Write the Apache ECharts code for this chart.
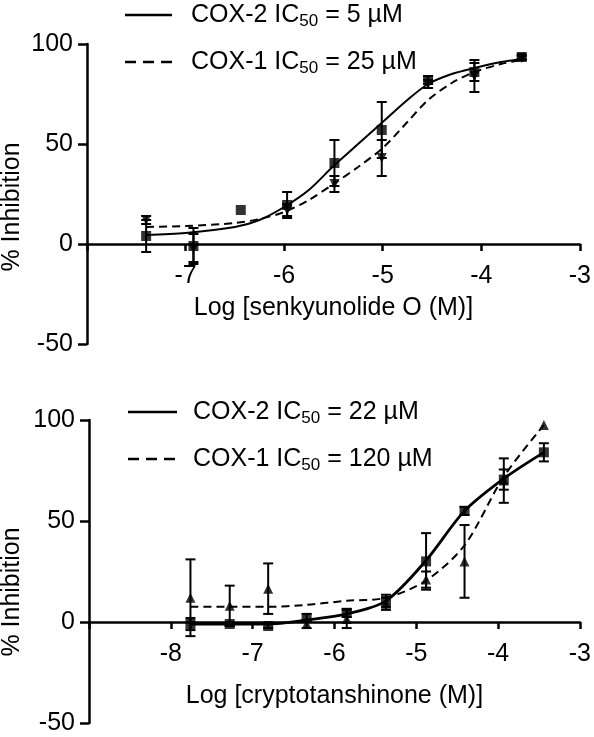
<!DOCTYPE html>
<html>
<head>
<meta charset="utf-8">
<script src="https://cdn.jsdelivr.net/npm/echarts@6/dist/echarts.min.js"></script>
<style>
html,body{margin:0;padding:0;background:#fff;}
#chart{width:594px;height:737px;}
</style>
</head>
<body>
<div id="chart"></div>
<script>
// ---------- Top panel: senkyunolide O ----------
var topX = [-7.40, -6.92, -6.44, -5.97, -5.49, -5.01, -4.54, -4.07, -3.59];
var topCox2 = [4, -1, 17, 19.5, 40.5, 57, 82, 86, 93.5];
var topCox2Err = [8, 9, 0, 6.5, 11.5, 14, 2, 4.5, 1];
var topCox1 = [12, -2, null, 17, 30, 43, 80, 84, 93];
var topCox1Err = [2, 7, 0, 3, 4, 9, 2, 8, 1];
var topCurveX = [-7.4, -7.0, -6.5, -6.25, -6.0, -5.75, -5.5, -5.25, -5.0, -4.75, -4.54, -4.3, -4.07, -3.8, -3.59];
var topCox2Curve = [4.5, 5.5, 8.5, 12, 18.5, 27, 39, 50, 61, 72, 80, 85, 88, 91, 92.5];
var topCox1Curve = [8.5, 9, 10.5, 12.5, 16, 22, 30, 38.5, 48, 61, 72, 80.5, 86, 90, 92];
var topXTicks = [-8, -7, -6, -5, -4, -3];

// ---------- Bottom panel: cryptotanshinone ----------
var botX = [-7.76, -7.28, -6.81, -6.34, -5.85, -5.37, -4.88, -4.41, -3.93, -3.44];
var botCox2 = [-1, -1, -2, 2, 4.5, 10.5, 30, 55, 70.5, 84];
var botCox2Err = [3, 1, 1, 2, 2, 3, 14, 2, 5, 4.5];
var botCox1 = [12, 8, 16.5, -1, 1.5, 9, 21, 30, 70, 97.5];
var botCox1Err = [19, 10, 12.5, 2, 4.5, 3, 4, 18, 11, 0];
var botCox2Curve = [-1, -1, -1, 1, 4, 10.5, 30.5, 55, 71, 84];
var botCox1Curve = [7.5, 7.5, 7.5, 8.5, 10.5, 12, 20.5, 38, 72, 97.5];
var botXTicks = [-9, -8, -7, -6, -5, -4, -3];

var yTicks = [-50, 0, 50, 100];

var legendTop = ['COX-2 IC{s|50}{a| = 5 µM}', 'COX-1 IC{s|50}{a| = 25 µM}'];
var legendBot = ['COX-2 IC{s|50}{a| = 22 µM}', 'COX-1 IC{s|50}{a| = 120 µM}'];
var xNames = ['Log [senkyunolide O (M)]', 'Log [cryptotanshinone (M)]'];
var yName = '% Inhibition';

var FONT = 'Liberation Sans, Arial, sans-serif';

function zip(xs, ys) {
  var out = [];
  for (var i = 0; i < xs.length; i++) if (ys[i] !== null) out.push([xs[i], ys[i]]);
  return out;
}
function zipErr(xs, ys, es) {
  var out = [];
  for (var i = 0; i < xs.length; i++) if (ys[i] !== null && es[i] > 0) out.push([xs[i], ys[i], es[i]]);
  return out;
}

function errSeries(data, idx) {
  return {
    type: 'custom', xAxisIndex: idx, yAxisIndex: idx, z: 3,
    data: data,
    renderItem: function (params, api) {
      var x = api.value(0), y = api.value(1), e = api.value(2);
      var p1 = api.coord([x, y + e]);
      var p2 = api.coord([x, y - e]);
      var w = 5;
      var st = {stroke: '#000', lineWidth: 2};
      return {
        type: 'group',
        children: [
          {type: 'line', shape: {x1: p1[0], y1: p1[1], x2: p2[0], y2: p2[1]}, style: st},
          {type: 'line', shape: {x1: p1[0] - w, y1: p1[1], x2: p1[0] + w, y2: p1[1]}, style: st},
          {type: 'line', shape: {x1: p2[0] - w, y1: p2[1], x2: p2[0] + w, y2: p2[1]}, style: st}
        ]
      };
    }
  };
}

function xAxisCfg(idx, ticks, name, offset, nameGap) {
  return {
    type: 'value', gridIndex: idx, position: 'bottom', offset: offset,
    min: ticks[0], max: ticks[ticks.length - 1], interval: 1,
    name: name, nameLocation: 'middle', nameGap: nameGap,
    nameTextStyle: {fontSize: 25, color: '#000', fontFamily: FONT},
    axisLine: {show: true, onZero: false, lineStyle: {color: '#000', width: 2.5}},
    axisTick: {show: true, inside: false, length: 7, lineStyle: {color: '#000', width: 2.5}},
    axisLabel: {fontSize: 25, color: '#000', fontFamily: FONT, margin: 20,
      formatter: function (v) { return v === ticks[0] ? '' : String(v); }},
    splitLine: {show: false}
  };
}
function yAxisCfg(idx) {
  return {
    type: 'value', gridIndex: idx,
    min: yTicks[0], max: yTicks[yTicks.length - 1], interval: 50,
    axisLine: {show: true, onZero: false, lineStyle: {color: '#000', width: 2.5}},
    axisTick: {show: true, inside: false, length: 9, lineStyle: {color: '#000', width: 2.5}},
    axisLabel: {fontSize: 25, color: '#000', fontFamily: FONT, margin: 14},
    splitLine: {show: false}
  };
}

function lineSeries(data, idx, dashed, width, smooth) {
  return {
    type: 'line', xAxisIndex: idx, yAxisIndex: idx, data: data,
    smooth: smooth, showSymbol: false, symbol: 'none', z: 2,
    lineStyle: {color: '#000', width: width, type: dashed ? [8, 5] : 'solid'}
  };
}
function scatterSeries(data, idx, symbol, size, rot) {
  return {
    type: 'scatter', xAxisIndex: idx, yAxisIndex: idx, data: data,
    symbol: symbol, symbolSize: size, symbolRotate: rot, z: 4,
    itemStyle: {color: '#000'}
  };
}

function legendItems(x0, x1, xt, ys, texts) {
  var els = [];
  for (var i = 0; i < texts.length; i++) {
    els.push({
      type: 'line', shape: {x1: x0, y1: ys[i], x2: x1, y2: ys[i]},
      style: {stroke: '#000', lineWidth: 2.5, lineDash: i === 1 ? [11, 7] : null}
    });
    els.push({
      type: 'text', x: xt, y: ys[i],
      style: {
        text: '{a|' + texts[i].replace('IC{s|', 'IC}{s|'),
        verticalAlign: 'middle', align: 'left',
        rich: {
          a: {fontSize: 25, fontFamily: FONT, fill: '#000', lineHeight: 30, verticalAlign: 'middle'},
          s: {fontSize: 17, fontFamily: FONT, fill: '#000', lineHeight: 17, verticalAlign: 'bottom'}
        }
      }
    });
  }
  return els;
}

var chart = echarts.init(document.getElementById('chart'), null, {renderer: 'canvas'});
var graphics = []
  .concat(legendItems(125, 172, 191, [15, 62], legendTop))
  .concat(legendItems(128, 177, 193, [412, 459], legendBot))
  .concat([
    {type: 'text', x: 12, y: 207, rotation: Math.PI / 2,
      style: {text: yName, fontSize: 25, fontFamily: FONT, fill: '#000', align: 'center', verticalAlign: 'middle'}},
    {type: 'text', x: 12, y: 592, rotation: Math.PI / 2,
      style: {text: yName, fontSize: 25, fontFamily: FONT, fill: '#000', align: 'center', verticalAlign: 'middle'}}
  ]);

chart.setOption({
  animation: false,
  backgroundColor: '#fff',
  grid: [
    {left: 87, top: 44, width: 497, height: 300, containLabel: false},
    {left: 89, top: 420, width: 496, height: 303, containLabel: false}
  ],
  xAxis: [xAxisCfg(0, topXTicks, xNames[0], -100, 52), xAxisCfg(1, botXTicks, xNames[1], -101, 62)],
  yAxis: [yAxisCfg(0), yAxisCfg(1)],
  graphic: graphics,
  series: [
    lineSeries(zip(topCurveX, topCox2Curve), 0, false, 2, 0.3),
    lineSeries(zip(topCurveX, topCox1Curve), 0, true, 2, 0.3),
    errSeries(zipErr(topX, topCox2, topCox2Err), 0),
    errSeries(zipErr(topX, topCox1, topCox1Err), 0),
    scatterSeries(zip(topX, topCox2), 0, 'rect', 10, 0),
    scatterSeries(zip(topX, topCox1), 0, 'triangle', 10, 180),

    lineSeries(zip(botX, botCox2Curve), 1, false, 2.8, 0.3),
    lineSeries(zip(botX, botCox1Curve), 1, true, 2, 0.3),
    errSeries(zipErr(botX, botCox2, botCox2Err), 1),
    errSeries(zipErr(botX, botCox1, botCox1Err), 1),
    scatterSeries(zip(botX, botCox2), 1, 'rect', 10, 0),
    scatterSeries(zip(botX, botCox1), 1, 'triangle', 10, 0)
  ]
});
</script>
</body>
</html>
